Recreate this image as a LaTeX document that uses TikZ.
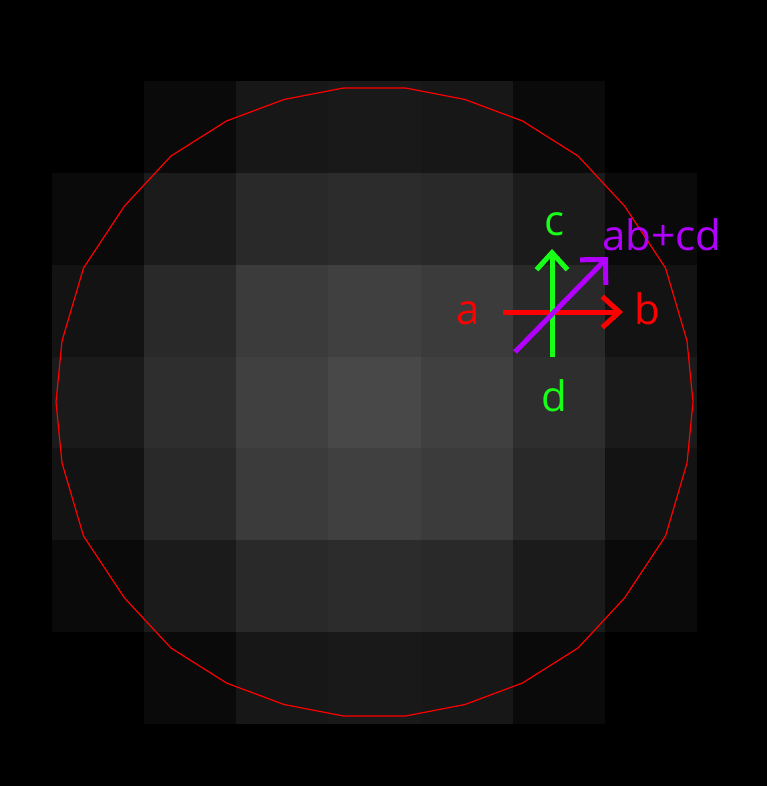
\documentclass[tikz,border=0pt]{standalone}
\usepackage{fontspec}
\setmainfont{Open Sans}
\usetikzlibrary{arrows.meta}

\definecolor{vecred}{RGB}{255,0,0}
\definecolor{vecgreen}{RGB}{24,255,24}
\definecolor{vecpurple}{RGB}{178,0,255}

\begin{document}
\begin{tikzpicture}[
    x=0.5pt, y=-0.5pt,
    font=\fontsize{21}{25}\selectfont,
    >={Straight Barb[length=8.5pt, width=15.5pt, sharp]},
    vec/.style={->, line width=2.5pt},
    lab/.style={anchor=base, inner sep=0pt},
  ]
  %% ---- black field and the grey cells ---------------------------------
  \useasboundingbox (0,0) rectangle (767,786);
  \fill[black] (0,0) rectangle (767,786);
  \foreach \vals [count=\row from 0] in {
      {0,10,23,25,23,10,0},
      {10,27,41,44,41,27,10},
      {19,41,59,64,59,41,19},
      {26,46,64,72,64,46,26},
      {19,41,59,64,59,41,19},
      {10,27,41,44,41,27,10},
      {0,10,23,25,23,10,0}}
    \foreach \v [count=\col from 0] in \vals
      \fill[fill={rgb,255:red,\v;green,\v;blue,\v}]
        ({52+92.14*\col},{81+91.86*\row}) rectangle ++(92.6,92.3);

  %% ---- the red outline --------------------------------------------------
  \draw[vecred, line width=0.6pt, shift={(374.5,402)}]
    (31,-314) -- (90.5,-302.5) -- (148,-281) -- (203.5,-246) -- (250,-196)
    -- (291,-134) -- (312.5,-61) -- (318.5,0) -- (312.5,61) -- (291,134)
    -- (250,196) -- (203.5,246) -- (148,281) -- (90.5,302.5) -- (31,314)
    -- (-31,314) -- (-90.5,302.5) -- (-148,281) -- (-203.5,246) -- (-250,196)
    -- (-291,134) -- (-312.5,61) -- (-318.5,0) -- (-312.5,-61) -- (-291,-134)
    -- (-250,-196) -- (-203.5,-246) -- (-148,-281) -- (-90.5,-302.5)
    -- (-31,-314) -- cycle;

  %% ---- the vectors --------------------------------------------------------
  \coordinate (aTail) at (503,312);
  \coordinate (bHead) at (623,312);
  \coordinate (dTail) at (552,357);
  \coordinate (cHead) at (552,249);
  \coordinate (sTail) at (515,352);
  \coordinate (sHead) at (608,257);

  \draw[vec, vecred]    (aTail) -- (bHead);
  \draw[vec, vecgreen]  (dTail) -- (cHead);
  \draw[vec, vecpurple, -{Straight Barb[length=9pt, width=18pt, sharp]}]
    (sTail) -- (sHead);

  \node[lab, vecred]    (la)   at (468,324)   {a};
  \node[lab, vecred]    (lb)   at (647,324)   {b};
  \node[lab, vecgreen]  (lc)   at (554.5,235) {c};
  \node[lab, vecgreen]  (ld)   at (554.5,411.5) {d};
  \node[lab, vecpurple] (lsum) at (661.5,250) {ab+cd};
\end{tikzpicture}
\end{document}
